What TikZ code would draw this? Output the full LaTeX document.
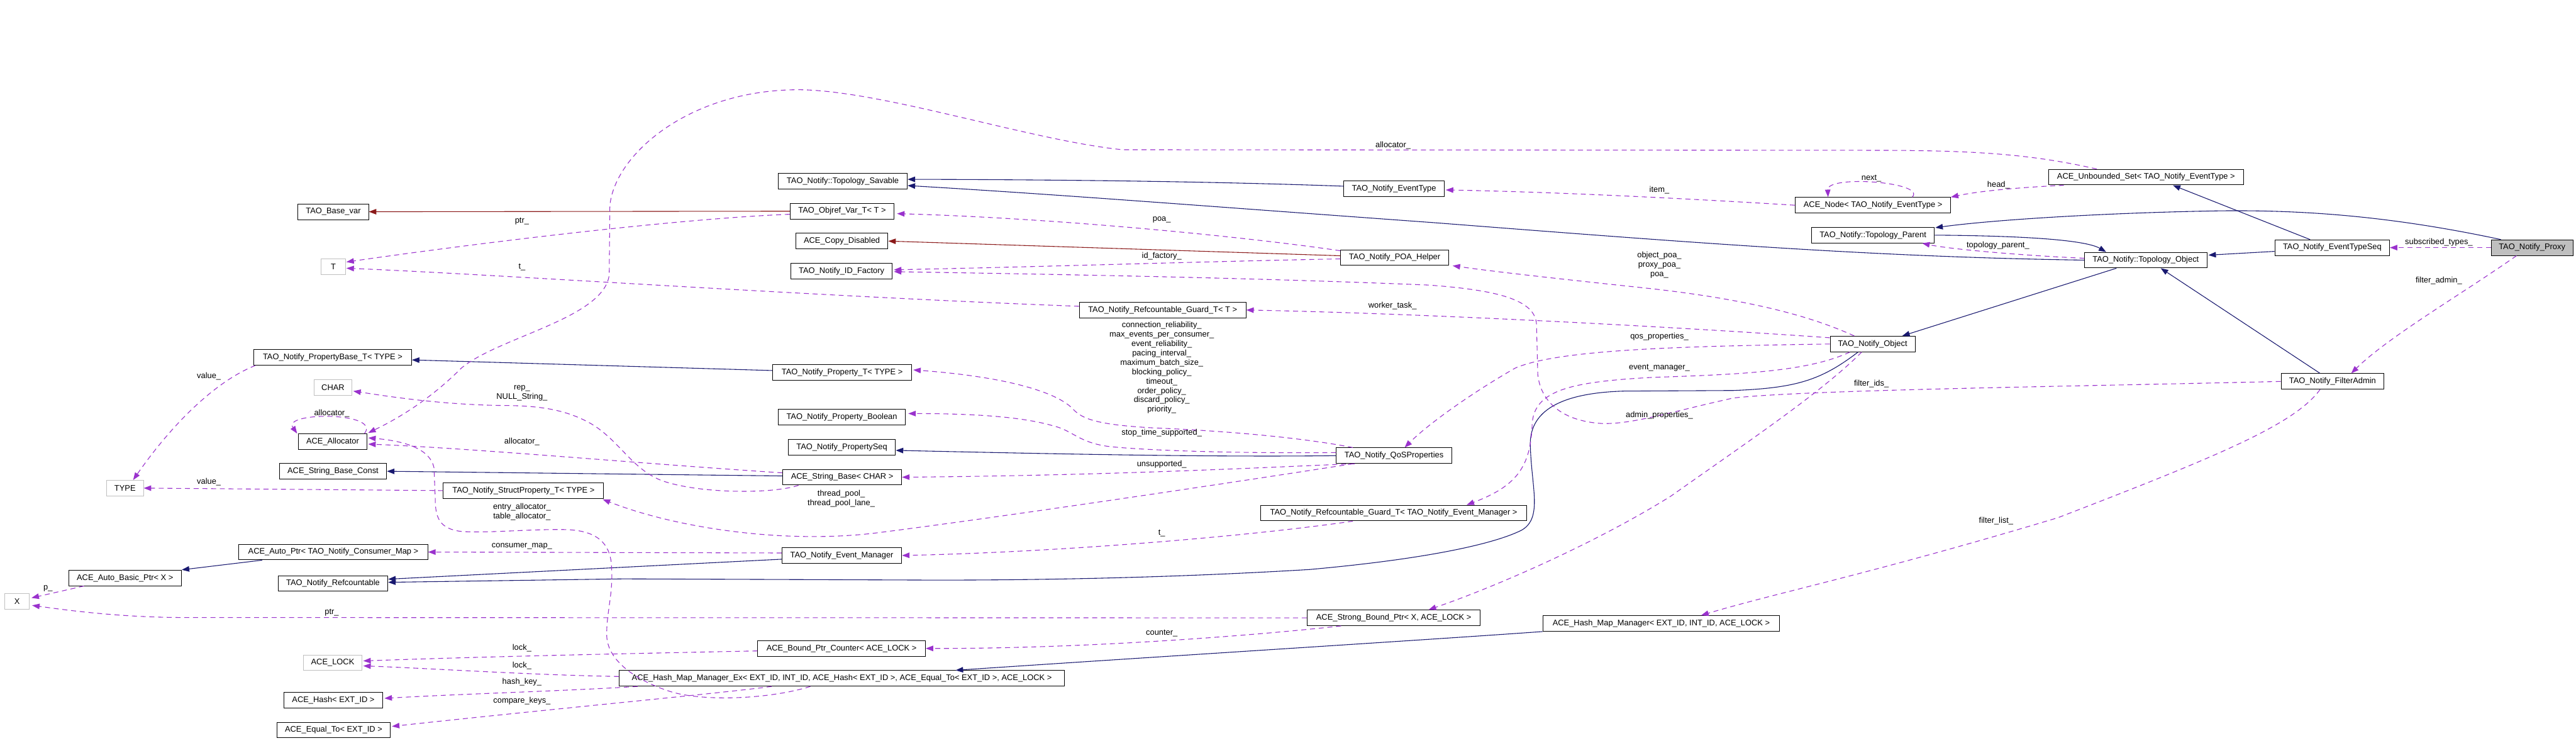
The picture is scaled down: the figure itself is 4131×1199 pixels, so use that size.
\documentclass[tikz,border=0pt]{standalone}
\usepackage{fontspec}
\setmainfont{Liberation Sans}
\usetikzlibrary{arrows.meta,calc}
\definecolor{inhblue}{RGB}{25,25,112}
\definecolor{privred}{RGB}{139,26,26}
\definecolor{usepurple}{RGB}{154,50,205}
\definecolor{boxgray}{RGB}{191,191,191}
\begin{document}
\begin{tikzpicture}[x=0.5pt,y=-0.5pt,
  every node/.style={font=\fontsize{6.5}{7.5}\selectfont},
  clsbox/.style={draw=black,line width=0.5pt,fill=white,inner sep=1pt,minimum height=12.5pt},
  extbox/.style={clsbox,draw=boxgray},
  lbltext/.style={inner sep=0pt,align=center},
  arrowtip/.style={-{Triangle[length=6pt,width=4.4pt]}},
  inhedge/.style={draw=inhblue,line width=0.55pt,arrowtip},
  prvedge/.style={draw=privred,line width=0.55pt,arrowtip},
  usage/.style={draw=usepurple,line width=0.55pt,dash pattern=on 4pt off 3pt,arrowtip}]
\useasboundingbox[fill=white] (0,0) rectangle (4131,1199);

% ---------- nodes ----------
\node[clsbox,minimum width=56.5pt] (basevar) at (534.5,339.5) {TAO\_Base\_var};
\node[extbox,minimum width=19.5pt] (T) at (534.5,428) {T};
\node[clsbox,minimum width=126.5pt] (propbase) at (533.5,573) {TAO\_Notify\_PropertyBase\_T< TYPE >};
\node[extbox,minimum width=30pt] (CHAR) at (534,621) {CHAR};
\node[clsbox,minimum width=54.5pt] (alloc) at (533.5,708) {ACE\_Allocator};
\node[clsbox,minimum width=86pt] (sbconst) at (534,755.5) {ACE\_String\_Base\_Const};
\node[extbox,minimum width=29.5pt] (TYPE) at (200.5,782.5) {TYPE};
\node[clsbox,minimum width=128.5pt] (structprop) at (839.5,786.5) {TAO\_Notify\_StructProperty\_T< TYPE >};
\node[clsbox,minimum width=151.5pt] (autoptr) at (534.5,885) {ACE\_Auto\_Ptr< TAO\_Notify\_Consumer\_Map >};
\node[clsbox,minimum width=90.5pt] (autobasic) at (200.5,926.5) {ACE\_Auto\_Basic\_Ptr< X >};
\node[clsbox,minimum width=88pt] (refc) at (534,935.5) {TAO\_Notify\_Refcountable};
\node[extbox,minimum width=19.5pt] (X) at (27.5,964.5) {X};
\node[extbox,minimum width=46.5pt] (LOCK) at (533.5,1062.5) {ACE\_LOCK};
\node[clsbox,minimum width=79.5pt] (hash) at (534.5,1122.5) {ACE\_Hash< EXT\_ID >};
\node[clsbox,minimum width=91pt] (equal) at (535,1170.5) {ACE\_Equal\_To< EXT\_ID >};
\node[clsbox,minimum width=103.5pt] (savable) at (1351.5,290.5) {TAO\_Notify::Topology\_Savable};
\node[clsbox,minimum width=83.5pt] (objref) at (1350.5,338.5) {TAO\_Objref\_Var\_T< T >};
\node[clsbox,minimum width=74pt] (copydis) at (1350,386.5) {ACE\_Copy\_Disabled};
\node[clsbox,minimum width=81.5pt] (idfac) at (1349.5,434.5) {TAO\_Notify\_ID\_Factory};
\node[clsbox,minimum width=133.5pt] (guardT) at (1864.5,497) {TAO\_Notify\_Refcountable\_Guard\_T< T >};
\node[clsbox,minimum width=111.5pt] (propT) at (1350.5,597) {TAO\_Notify\_Property\_T< TYPE >};
\node[clsbox,minimum width=102pt] (propbool) at (1350,669) {TAO\_Notify\_Property\_Boolean};
\node[clsbox,minimum width=86pt] (propseq) at (1350,717) {TAO\_Notify\_PropertySeq};
\node[clsbox,minimum width=95.5pt] (sbase) at (1350.5,765) {ACE\_String\_Base< CHAR >};
\node[clsbox,minimum width=96pt] (evmgr) at (1350,890.5) {TAO\_Notify\_Event\_Manager};
\node[clsbox,minimum width=213pt] (guardEM) at (2235,822.5) {TAO\_Notify\_Refcountable\_Guard\_T< TAO\_Notify\_Event\_Manager >};
\node[clsbox,minimum width=134.5pt] (counter) at (1349.5,1039.5) {ACE\_Bound\_Ptr\_Counter< ACE\_LOCK >};
\node[clsbox,minimum width=357pt] (hmex) at (1350,1087.5) {ACE\_Hash\_Map\_Manager\_Ex< EXT\_ID, INT\_ID, ACE\_Hash< EXT\_ID >, ACE\_Equal\_To< EXT\_ID >, ACE\_LOCK >};
\node[clsbox,minimum width=139pt] (strong) at (2235,990.5) {ACE\_Strong\_Bound\_Ptr< X, ACE\_LOCK >};
\node[clsbox,minimum width=190pt] (hmm) at (2664,999.5) {ACE\_Hash\_Map\_Manager< EXT\_ID, INT\_ID, ACE\_LOCK >};
\node[clsbox,minimum width=80.5pt] (evtype) at (2235.5,302.5) {TAO\_Notify\_EventType};
\node[clsbox,minimum width=86.5pt] (poahelper) at (2236.5,413) {TAO\_Notify\_POA\_Helper};
\node[clsbox,minimum width=92.5pt] (qos) at (2235.5,730.5) {TAO\_Notify\_QoSProperties};
\node[clsbox,minimum width=124.5pt] (acenode) at (3003.5,329) {ACE\_Node< TAO\_Notify\_EventType >};
\node[clsbox,minimum width=98.5pt] (tparent) at (3003.5,377) {TAO\_Notify::Topology\_Parent};
\node[clsbox,minimum width=68pt] (object) at (3003,551.5) {TAO\_Notify\_Object};
\node[clsbox,minimum width=156.5pt] (uset) at (3441.5,284) {ACE\_Unbounded\_Set< TAO\_Notify\_EventType >};
\node[clsbox,minimum width=98pt] (tobject) at (3441,417) {TAO\_Notify::Topology\_Object};
\node[clsbox,minimum width=82.5pt] (filteradmin) at (3740.5,611.5) {TAO\_Notify\_FilterAdmin};
\node[clsbox,minimum width=92pt] (etseq) at (3740,397) {TAO\_Notify\_EventTypeSeq};
\node[clsbox,fill=boxgray,minimum width=65.5pt] (proxy) at (4060.5,397) {TAO\_Notify\_Proxy};

% ---------- inheritance ----------
\draw[prvedge] (objref) -- (basevar);
\draw[prvedge] ($(poahelper.west)+(0,-3)$) -- (copydis.east);
\draw[inhedge] ($(evtype.west)+(0,-4)$) .. controls (1950,291) and (1700,288) .. ($(savable.east)+(0,-3)$);
\draw[inhedge] (tobject.west) .. controls (3000,412) and (2700,388) .. (2300,357) .. controls (1900,328) and (1700,312) .. ($(savable.east)+(0,7)$);
\draw[inhedge] (tparent.east) .. controls (3250,378) and (3345,385) .. ($(tobject.north west)+(35,0)$);
\draw[inhedge] ($(proxy.north west)+(16,0)$) .. controls (3860,352) and (3720,336) .. (3560,338) .. controls (3380,341) and (3200,352) .. ($(tparent.north east)+(1,1)$);
\draw[inhedge] ($(etseq.west)+(0,6)$) -- ($(tobject.east)+(2,-8)$);
\draw[inhedge] ($(etseq.north west)+(57,0)$) -- ($(uset.south)+(43,0)$);
\draw[inhedge] ($(filteradmin.north west)+(63,0)$) -- ($(tobject.south)+(24,0)$);
\draw[inhedge] ($(tobject.south)+(-47,0)$) -- ($(object.north east)+(-21,0)$);
\draw[inhedge] ($(object.south west)+(45,0)$) .. controls (2920,610) and (2880,622) .. (2780,626) -- (2604,627) .. controls (2500,630) and (2455,660) .. (2454,710) .. controls (2455,780) and (2475,830) .. (2440,850) .. controls (2400,870) and (2300,895) .. (2100,913) .. controls (1900,925) and (1700,930) .. (1500,930) -- (1000,928) -- ($(refc.east)+(0,-2)$);
\draw[inhedge] ($(evmgr.west)+(0,6)$) -- ($(refc.east)+(0,-7)$);
\draw[inhedge] ($(autoptr.south west)+(38,0)$) -- (autobasic.north east);
\draw[inhedge] ($(propT.west)+(0,-3)$) -- ($(propbase.east)+(0,4)$);
\draw[inhedge] ($(sbase.west)+(0,-2)$) -- (sbconst.east);
\draw[inhedge] (qos.west) .. controls (1950,733) and (1700,728) .. ($(propseq.east)+(0,5)$);
\draw[inhedge] (hmm.south west) .. controls (2300,1025) and (1900,1050) .. ($(hmex.north west)+(540,0)$);

% ---------- usage ----------
\draw[usage] ($(objref.west)+(0,5)$) .. controls (1100,350) and (800,385) .. ($(T.east)+(1,-8)$);
\draw[usage] ($(guardT.west)+(0,-6)$) .. controls (1300,475) and (800,440) .. ($(T.east)+(1,2)$);
\draw[usage] ($(uset.north west)+(78,0)$) .. controls (3250,245) and (3150,241) .. (3000,241) -- (1800,240) .. controls (1650,225) and (1400,140) .. (1270,144) .. controls (1100,148) and (985,250) .. (978,330) -- (977,440) .. controls (970,510) and (800,540) .. (740,590) .. controls (690,640) and (640,670) .. ($(alloc.north east)+(2,-1)$);
\draw[usage] ($(alloc.north east)+(-4,0)$) .. controls (612,660) and (452,660) .. ($(alloc.north west)+(-2,0)$);
\draw[usage] ($(sbase.west)+(0,-7)$) .. controls (1050,745) and (750,718) .. ($(alloc.east)+(2,4)$);
\draw[usage] ($(hmex.south west)+(307,0)$) .. controls (1230,1122) and (1120,1125) .. (1070,1107) .. controls (1020,1090) and (975,1060) .. (973,1020) .. controls (972,980) and (985,950) .. (980,900) .. controls (975,865) and (950,850) .. (906,849) .. controls (850,848) and (780,855) .. (740,852) .. controls (705,848) and (698,830) .. (698,800) -- (696,750) .. controls (690,720) and (650,707) .. ($(alloc.east)+(2,-6)$);
\draw[usage] ($(sbase.south west)+(26,0)$) .. controls (1240,792) and (1120,792) .. (1060,770) .. controls (1010,750) and (990,700) .. (940,675) .. controls (900,655) and (860,650) .. (800,650) .. controls (700,648) and (620,635) .. ($(CHAR.east)+(2,6)$);
\draw[usage] ($(propbase.south west)+(3,0)$) .. controls (360,605) and (290,660) .. ($(TYPE.north)+(13,0)$);
\draw[usage] (structprop.west) -- (TYPE.east);
\draw[usage] ($(qos.south west)+(27,0)$) .. controls (2000,770) and (1600,830) .. (1400,855) .. controls (1250,872) and (1080,845) .. ($(structprop.south east)+(-2,1)$);
\draw[usage] ($(qos.north west)+(27,0)$) .. controls (2080,700) and (1950,690) .. (1850,686) .. controls (1760,681) and (1735,672) .. (1720,655) .. controls (1690,625) and (1600,603) .. ($(propT.east)+(2,-4)$);
\draw[usage] ($(qos.west)+(0,-5)$) .. controls (2000,727) and (1850,723) .. (1780,716) .. controls (1730,710) and (1720,690) .. (1690,683) .. controls (1640,668) and (1560,663) .. ($(propbool.east)+(4,-6)$);
\draw[usage] ($(qos.south west)+(30,0)$) .. controls (2050,748) and (1800,762) .. (sbase.east);
\draw[usage] (object.west) .. controls (2700,555) and (2500,560) .. (2430,590) .. controls (2360,630) and (2290,680) .. ($(qos.north)+(17,0)$);
\draw[usage] ($(object.north west)+(39,0)$) .. controls (2900,505) and (2800,480) .. (2650,463) .. controls (2500,447) and (2400,436) .. ($(poahelper.south east)+(6,0)$);
\draw[usage] ($(object.west)+(0,-10)$) .. controls (2700,525) and (2300,503) .. (guardT.east);
\draw[usage] ($(object.south west)+(32,0)$) .. controls (2900,595) and (2800,600) .. (2650,605) .. controls (2520,612) and (2460,625) .. (2457,680) .. controls (2455,750) and (2430,780) .. ($(guardEM.north)+(117,0)$);
\draw[usage] ($(object.south west)+(51,0)$) .. controls (2920,630) and (2800,710) .. (2680,795) .. controls (2560,870) and (2400,940) .. ($(strong.north)+(56,0)$);
\draw[usage] (filteradmin.west) .. controls (3300,620) and (2900,625) .. (2780,638) .. controls (2680,660) and (2620,680) .. (2570,679) .. controls (2500,675) and (2470,640) .. (2466,600) -- (2464,520) .. controls (2462,480) and (2400,465) .. (2291,457) .. controls (2000,445) and (1700,440) .. ($(idfac.east)+(2,1)$);
\draw[usage] ($(poahelper.west)+(0,2)$) .. controls (1900,420) and (1700,427) .. ($(idfac.east)+(2,-2)$);
\draw[usage] ($(poahelper.north west)+(0,2)$) .. controls (2000,380) and (1700,350) .. ($(objref.east)+(4,4)$);
\draw[usage] (acenode.west) .. controls (2700,318) and (2500,308) .. ($(evtype.east)+(2,2)$);
\draw[usage] ($(acenode.north)+(63,0)$) .. controls (3090,292) and (2930,280) .. ($(acenode.north west)+(53,0)$);
\draw[usage] ($(uset.south west)+(25,0)$) .. controls (3250,300) and (3180,305) .. (acenode.north east);
\draw[usage] ($(tobject.west)+(0,-3)$) .. controls (3250,410) and (3130,400) .. ($(tparent.south east)+(-20,0)$);
\draw[usage] (proxy.west) -- (etseq.east);
\draw[usage] ($(proxy.south)+(-25,0)$) .. controls (3950,470) and (3830,540) .. ($(filteradmin.north)+(30,0)$);
\draw[usage] ($(filteradmin.south)+(-20,0)$) .. controls (3680,680) and (3560,730) .. (3300,830) .. controls (3000,920) and (2850,950) .. ($(hmm.north)+(64,0)$);
\draw[usage] ($(guardEM.south west)+(148,0)$) .. controls (2000,860) and (1700,885) .. (evmgr.east);
\draw[usage] (strong.west) -- (300,990) .. controls (200,990) and (120,980) .. ($(X.east)+(4,6)$);
\draw[usage] ($(autobasic.south west)+(25,0)$) -- ($(X.east)+(3,-6)$);
\draw[usage] ($(evmgr.west)+(0,-4)$) -- (autoptr.east);
\draw[usage] ($(strong.south west)+(55,0)$) .. controls (1950,1025) and (1700,1040) .. (counter.east);
\draw[usage] ($(counter.west)+(0,4)$) .. controls (1000,1048) and (800,1052) .. ($(LOCK.east)+(2,-3)$);
\draw[usage] ($(hmex.west)+(0,-3)$) .. controls (850,1082) and (700,1072) .. ($(LOCK.east)+(2,5)$);
\draw[usage] ($(hmex.south west)+(30,0)$) .. controls (900,1108) and (750,1112) .. ($(hash.east)+(2,-3)$);
\draw[usage] ($(hmex.south west)+(245,0)$) .. controls (1150,1112) and (900,1135) .. ($(equal.east)+(2,-6)$);

% ---------- labels ----------
\node[lbltext] (lptrA) at (837,355) {ptr\_};
\node[lbltext] (ltA) at (837,428) {t\_};
\node[lbltext] (lvalA) at (335,603) {value\_};
\node[lbltext] (lrep) at (837,630.5) {rep\_\\NULL\_String\_};
\node[lbltext] (lallocself) at (532,663) {allocator\_};
\node[lbltext] (lallocsb) at (837,708) {allocator\_};
\node[lbltext] (lvalB) at (335,773) {value\_};
\node[lbltext] (lentry) at (837,820.5) {entry\_allocator\_\\table\_allocator\_};
\node[lbltext] (lcmap) at (837,876) {consumer\_map\_};
\node[lbltext] (lp) at (77,943) {p\_};
\node[lbltext] (lptrB) at (532,982) {ptr\_};
\node[lbltext] (llockA) at (837,1039) {lock\_};
\node[lbltext] (llockB) at (837,1067) {lock\_};
\node[lbltext] (lhashkey) at (837,1093) {hash\_key\_};
\node[lbltext] (lcmpkeys) at (837,1124) {compare\_keys\_};
\node[lbltext] (lpoa) at (1863,352) {poa\_};
\node[lbltext] (lidfac) at (1863,411) {id\_factory\_};
\node[lbltext] (lqosprops) at (1863,589.5) {connection\_reliability\_\\max\_events\_per\_consumer\_\\event\_reliability\_\\pacing\_interval\_\\maximum\_batch\_size\_\\blocking\_policy\_\\timeout\_\\order\_policy\_\\discard\_policy\_\\priority\_};
\node[lbltext] (lstop) at (1863,694) {stop\_time\_supported\_};
\node[lbltext] (lunsup) at (1863,744) {unsupported\_};
\node[lbltext] (lthread) at (1349,799.5) {thread\_pool\_\\thread\_pool\_lane\_};
\node[lbltext] (ltB) at (1863,855) {t\_};
\node[lbltext] (lcounter) at (1863,1015) {counter\_};
\node[lbltext] (lallocU) at (2234,233) {allocator\_};
\node[lbltext] (litem) at (2661,305) {item\_};
\node[lbltext] (lnext) at (3001,286) {next\_};
\node[lbltext] (lhead) at (3205,297) {head\_};
\node[lbltext] (ltopparent) at (3204,393) {topology\_parent\_};
\node[lbltext] (lsubtypes) at (3911,388) {subscribed\_types\_};
\node[lbltext] (lfadmin) at (3911,450) {filter\_admin\_};
\node[lbltext] (lobjpoa) at (2661,424.5) {object\_poa\_\\proxy\_poa\_\\poa\_};
\node[lbltext] (lworker) at (2233,490) {worker\_task\_};
\node[lbltext] (lqos) at (2661,540) {qos\_properties\_};
\node[lbltext] (levmgr) at (2661,590) {event\_manager\_};
\node[lbltext] (lfids) at (3001,615) {filter\_ids\_};
\node[lbltext] (ladmin) at (2661,666) {admin\_properties\_};
\node[lbltext] (lflist) at (3201,835) {filter\_list\_};
\end{tikzpicture}
\end{document}
